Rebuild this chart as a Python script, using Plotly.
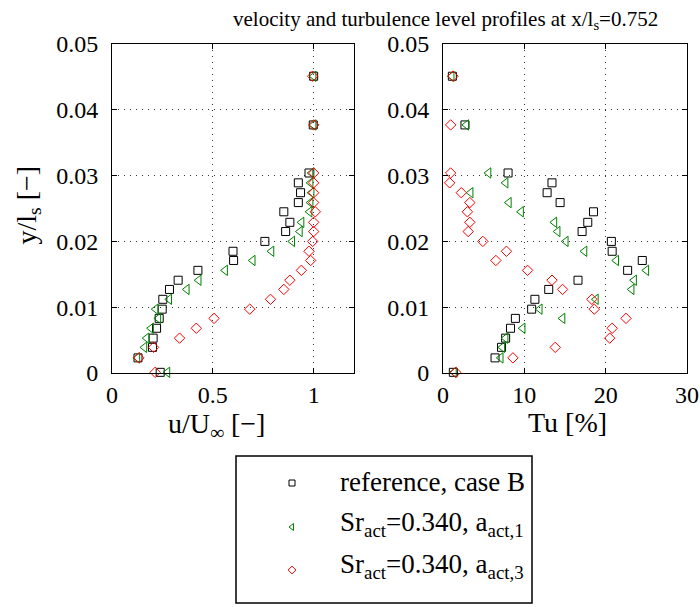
import plotly.graph_objects as go

# wall-normal positions y/l_s of the measurement points (shared by all series)
y_pos = [0.0001, 0.0023, 0.0039, 0.0053, 0.0068, 0.0083, 0.0097, 0.0112,
         0.0127, 0.0141, 0.0156, 0.0171, 0.0185, 0.0200, 0.0215, 0.0229,
         0.0245, 0.0259, 0.0274, 0.0289, 0.0304, 0.0377, 0.0451]

# velocity u/U_inf
u_ref = [0.239, 0.129, 0.201, 0.204, 0.221, 0.234, 0.249, 0.252, 0.285, 0.328,
         0.426, 0.603, 0.600, 0.758, 0.861, 0.882, 0.852, 0.924, 0.935, 0.924,
         0.977, 0.998, 1.000]
u_a1 = [0.275, 0.126, 0.161, 0.172, 0.194, 0.230, 0.217, 0.284, 0.371, 0.430,
        0.561, 0.698, 0.791, 0.894, 0.932, 0.940, 0.980, 0.985, 0.990, 0.985,
        0.990, 1.000, 1.000]
u_a3 = [0.214, 0.133, 0.206, 0.335, 0.418, 0.506, 0.683, 0.786, 0.852, 0.882,
        0.939, 0.985, 0.977, 0.995, 1.000, 1.000, 1.008, 1.000, 1.000, 1.000,
        1.000, 1.000, 0.995]

# turbulence level Tu [%]
tu_ref = [1.27, 6.4, 7.2, 7.7, 8.3, 8.9, 10.9, 11.3, 13.0, 16.6, 22.7, 24.5,
          20.8, 20.7, 17.1, 17.8, 18.5, 14.4, 12.8, 13.4, 8.0, 2.7, 1.15]
tu_a1 = [1.35, 7.1, 7.3, 7.7, 9.8, 14.7, 11.9, 18.8, 23.2, 23.5, 25.0, 21.3,
         17.4, 15.1, 14.1, 13.7, 9.6, 8.1, 3.4, 7.7, 5.6, 2.87, 1.07]
tu_a3 = [1.56, 8.6, 13.8, 20.5, 20.8, 22.5, 18.6, 18.3, 14.7, 13.4, 10.4, 6.5,
         7.8, 4.9, 3.1, 3.3, 3.0, 3.3, 2.25, 0.82, 0.94, 0.94, 1.23]

series_names = ["reference, case B",
                "Sr<sub>act</sub>=0.340, a<sub>act,1</sub>",
                "Sr<sub>act</sub>=0.340, a<sub>act,3</sub>"]
u_ticks = [0, 0.5, 1]
tu_ticks = [0, 10, 20, 30]
y_ticks = [0, 0.01, 0.02, 0.03, 0.04, 0.05]

W, H = 700, 607
FONT = "Liberation Serif"
TICK_FS = 24
TITLE_FS = 21
LABEL_FS = 28
LEGEND_FS = 27
GREEN = "#008000"
styles = [dict(symbol="square-open", color="black", size=8),
          dict(symbol="triangle-left-open", color=GREEN, size=9),
          dict(symbol="diamond-open", color="red", size=8)]


def px(x):
    return x / W


def py(y):
    return 1 - y / H


fig = go.Figure()

for vals, st in zip([u_ref, u_a1, u_a3], styles):
    fig.add_trace(go.Scatter(x=vals, y=y_pos, mode="markers", xaxis="x", yaxis="y",
                             marker=dict(symbol=st["symbol"], size=st["size"],
                                         color=st["color"],
                                         line=dict(color=st["color"], width=1)),
                             showlegend=False, hoverinfo="skip", cliponaxis=False))
for vals, st in zip([tu_ref, tu_a1, tu_a3], styles):
    fig.add_trace(go.Scatter(x=vals, y=y_pos, mode="markers", xaxis="x2", yaxis="y2",
                             marker=dict(symbol=st["symbol"], size=st["size"],
                                         color=st["color"],
                                         line=dict(color=st["color"], width=1)),
                             showlegend=False, hoverinfo="skip", cliponaxis=False))

# legend box: sample markers on a pixel-space overlay axis
leg_marker_y = [483, 527, 570]
for yy, st in zip(leg_marker_y, styles):
    fig.add_trace(go.Scatter(x=[292], y=[yy], mode="markers", xaxis="x3", yaxis="y3",
                             marker=dict(symbol=st["symbol"], size=6, color=st["color"],
                                         line=dict(color=st["color"], width=1)),
                             showlegend=False, hoverinfo="skip"))

axis_common = dict(showline=True, linecolor="black", linewidth=1, mirror="ticks",
                   ticks="inside", ticklen=5, tickcolor="black", automargin=False,
                   showgrid=True, gridcolor="#333333", gridwidth=1, griddash="1px,5px",
                   zeroline=False, tickfont=dict(family=FONT, size=TICK_FS, color="black"))

ydom = [py(373), py(44)]
fig.update_layout(
    width=W, height=H, margin=dict(l=0, r=0, t=0, b=0, pad=0, autoexpand=False),
    paper_bgcolor="white", plot_bgcolor="rgba(0,0,0,0)",
    font=dict(family=FONT, size=TICK_FS, color="black"),
    showlegend=False,
    xaxis=dict(domain=[px(112), px(354)], range=[0, 1.2], tickvals=u_ticks,
               ticktext=[str(t) for t in u_ticks], anchor="y", **axis_common),
    yaxis=dict(domain=ydom, range=[0, 0.05], tickvals=y_ticks, ticklabelstandoff=8,
               ticktext=[f"{t:g}" for t in y_ticks], anchor="x", **axis_common),
    xaxis2=dict(domain=[px(443), px(687)], range=[0, 30], tickvals=tu_ticks,
                ticktext=[str(t) for t in tu_ticks], anchor="y2", **axis_common),
    yaxis2=dict(domain=ydom, range=[0, 0.05], tickvals=y_ticks, ticklabelstandoff=8,
                ticktext=[f"{t:g}" for t in y_ticks], anchor="x2", **axis_common),
    xaxis3=dict(domain=[0, 1], range=[0, W], visible=False, anchor="y3",
                automargin=False),
    yaxis3=dict(domain=[0, 1], range=[H, 0], visible=False, anchor="x3",
                automargin=False),
)


def text_ann(text, x, y, size, **kw):
    fig.add_annotation(text=text, x=px(x), y=py(y), xref="paper", yref="paper",
                       showarrow=False,
                       font=dict(family=FONT, size=size, color="black"), **kw)


text_ann("velocity and turbulence level profiles at x/l<sub>s</sub>=0.752", 445, 20,
         TITLE_FS, xanchor="center", yanchor="middle")
text_ann("u/U<sub>∞</sub> [−]", 216, 425, LABEL_FS, xanchor="center", yanchor="middle")
text_ann("Tu [%]", 567, 422, LABEL_FS, xanchor="center", yanchor="middle")
text_ann("y/l<sub>s</sub> [−]", 8, 205, LABEL_FS, textangle=-90,
         xanchor="left", yanchor="middle")

# legend frame and entries
fig.add_shape(type="rect", xref="paper", yref="paper",
              x0=px(236), x1=px(532), y0=py(603), y1=py(456),
              line=dict(color="black", width=1.5), fillcolor="rgba(0,0,0,0)")
leg_text_y = [482, 524, 566]
for yy, name in zip(leg_text_y, series_names):
    text_ann(name, 338, yy, LEGEND_FS, xanchor="left", yanchor="middle")

fig.write_html("out.html")
